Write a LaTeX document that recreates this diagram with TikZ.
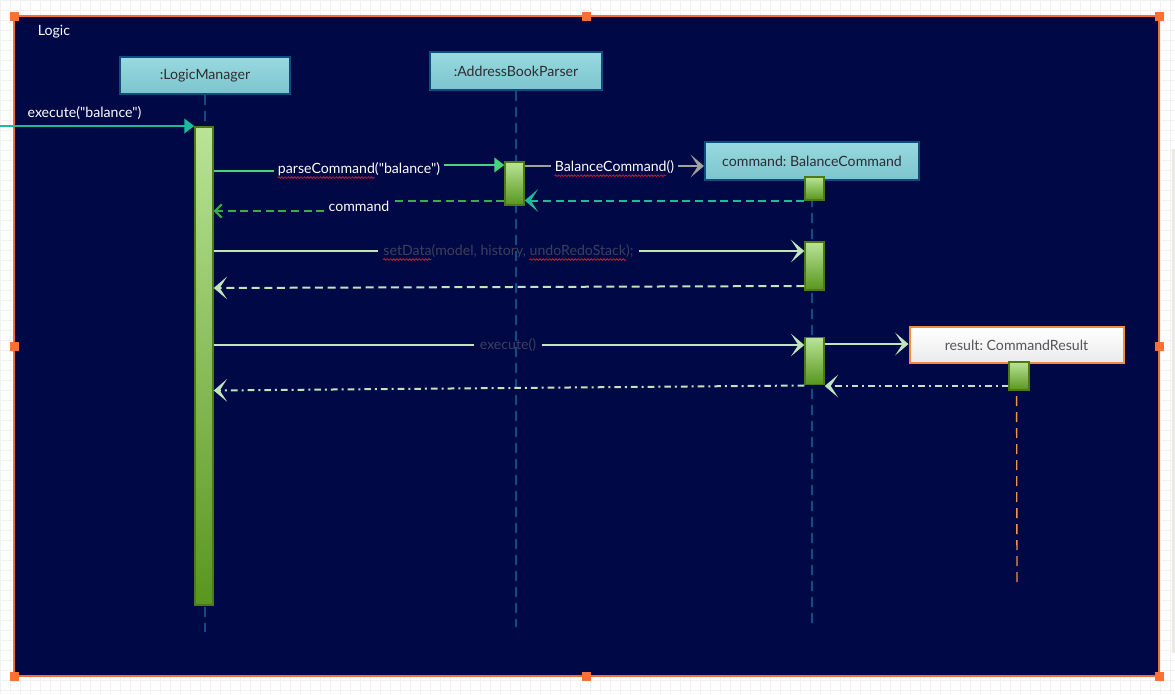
\documentclass[tikz,border=0pt]{standalone}
\usepackage{fontspec}
\setmainfont{Lato}[Ligatures=TeXOff]
\usetikzlibrary{arrows.meta,decorations.pathmorphing}
\frenchspacing

\definecolor{navy}{RGB}{0,8,69}
\definecolor{frameedge}{RGB}{240,110,55}
\definecolor{handlec}{RGB}{255,112,50}
\definecolor{gridc}{RGB}{241,241,241}
\definecolor{scrollc}{RGB}{236,234,226}
\definecolor{boxedge}{RGB}{14,78,125}
\definecolor{cyantop}{RGB}{152,218,224}
\definecolor{cyanbot}{RGB}{124,196,205}
\definecolor{boxtext}{RGB}{45,45,50}
\definecolor{resedge}{RGB}{240,140,62}
\definecolor{resbot}{RGB}{234,234,236}
\definecolor{restext}{RGB}{85,85,90}
\definecolor{acttop}{RGB}{185,228,150}
\definecolor{actbot}{RGB}{88,150,30}
\definecolor{actedge}{RGB}{78,122,22}
\definecolor{lifec}{RGB}{14,78,130}
\definecolor{lifeorange}{RGB}{240,150,70}
\definecolor{teal}{RGB}{26,188,156}
\definecolor{callgreen}{RGB}{72,212,122}
\definecolor{retgreen}{RGB}{58,172,72}
\definecolor{pale}{RGB}{192,229,188}
\definecolor{greyarrow}{RGB}{160,160,160}
\definecolor{dimtext}{RGB}{62,64,90}
\definecolor{spell}{RGB}{200,30,40}

% widths of the words marked by the spell checker
\newlength\wparse
\newlength\wbal
\newlength\wset
\newlength\wundooff
\newlength\wundo
\newcommand\lblfont{\fontsize{10.6pt}{12.7pt}\selectfont}

\begin{document}
\settowidth\wparse{\lblfont parseCommand}%
\settowidth\wbal{\lblfont BalanceCommand}%
\settowidth\wset{\lblfont setData}%
\settowidth\wundooff{\lblfont setData(model, history, }%
\settowidth\wundo{\lblfont undoRedoStack}%
\begin{tikzpicture}[x=0.75pt,y=-0.75pt,
  font=\lblfont,
  frame/.style={draw=frameedge, fill=navy, line width=0.8pt, inner sep=0pt},
  handle/.style={fill=handlec, minimum size=6.75pt, inner sep=0pt},
  objbox/.style={draw=boxedge, line width=1.5pt, top color=cyantop, bottom color=cyanbot,
                 text=boxtext, inner sep=0pt},
  resbox/.style={draw=resedge, line width=1.5pt, top color=white, bottom color=resbot,
                 text=restext, inner sep=0pt},
  actbar/.style={draw=actedge, line width=1.1pt, top color=acttop, bottom color=actbot,
                 inner sep=0pt, minimum width=13.5pt},
  lifeline/.style={draw=lifec, line width=1.3pt, dash pattern=on 7.5pt off 4.5pt},
  msglbl/.style={inner xsep=3pt, inner ysep=1pt, text=white},
  dimlbl/.style={inner xsep=4pt, inner ysep=1pt, text=dimtext},
  msgline/.style={line width=1.5pt},
  solidtip/.style={-{Triangle[length=7.5pt,width=11pt]}},
  sweeptip/.style={-{Stealth[length=10pt,width=17pt,inset=5.5pt]}},
  barbtip/.style={-{Straight Barb[length=5pt,width=10pt,line width=1.5pt]}},
  dashret/.style={dash pattern=on 6pt off 3.5pt},
  dotret/.style={dash pattern=on 5pt off 3pt on 1.5pt off 3pt},
  spellmark/.style={spell, line width=0.6pt, decorate,
                    decoration={snake, amplitude=0.6pt, segment length=2.4pt}},
]
\useasboundingbox (0,0) rectangle (1175,694);

% canvas with grid
\fill[white] (0,0) rectangle (1175,694);
\draw[gridc, line width=0.4pt, step=7.5pt] (0,694) grid (1175,0);
\fill[scrollc] (1172,149) rectangle (1175,653);

% frame of the Logic component
\node[frame, minimum width=858.75pt, minimum height=495pt] (frame) at (586.5,346) {};
\node[text=white] (logiclbl) at (54,32) {Logic};

% participants
\node[objbox, minimum width=127.5pt, minimum height=27.75pt] (lm) at (205,75.5) {:LogicManager};
\node[objbox, minimum width=129pt, minimum height=28.5pt] (abp) at (516,71) {:AddressBookParser};
\node[objbox, minimum width=160.5pt, minimum height=28.5pt] (cmd) at (812,161) {command: BalanceCommand};
\node[resbox, minimum width=160.5pt, minimum height=27pt] (res) at (1016.5,345) {result: CommandResult};

% lifelines
\coordinate (lmend) at (205,632);
\coordinate (abpend) at (516,627);
\coordinate (cmdend) at (812,626);
\coordinate (resend) at (1017,587);
\draw[lifeline] (lm.south) -- (lmend);
\draw[lifeline] (abp.south) -- (abpend);
\draw[lifeline] (cmd.south) -- (cmdend);
\draw[lifeline, draw=lifeorange, line width=1pt] (res.south) -- (resend);

% activation bars
\node[actbar, minimum height=358.5pt] (lmact) at (204,366) {};
\node[actbar, minimum width=14.25pt, minimum height=32.25pt] (pact) at (514.5,183.5) {};
\node[actbar, minimum width=14.25pt, minimum height=17.25pt] (c1) at (814.5,188.5) {};
\node[actbar, minimum width=14.25pt, minimum height=36pt] (c2) at (814.5,266) {};
\node[actbar, minimum width=14.25pt, minimum height=35.25pt] (c3) at (814.5,361) {};
\node[actbar, minimum width=15pt, minimum height=21pt] (r1) at (1019,376) {};

% incoming call
\coordinate (start) at (0,126);
\node[text=white] (execlbl) at (84.5,113) {execute("balance")};
\draw[msgline, teal, solidtip] (start) -- (lmact.west |- start);

% parseCommand
\node[msglbl] (parselbl) at (359,169) {parseCommand("balance")};
\draw[msgline, callgreen] (lmact.east |- 0,171) -- (parselbl.west |- 0,171);
\draw[msgline, callgreen, solidtip] (parselbl.east |- 0,165) -- (pact.west |- 0,165);
\draw[spellmark] ([xshift=3pt,yshift=-3.2pt]parselbl.base west) -- ++(\wparse,0pt);

% BalanceCommand creation
\node[msglbl] (newlbl) at (614.5,167) {BalanceCommand()};
\draw[msgline, greyarrow] (pact.east |- 0,166) -- (newlbl.west |- 0,166);
\draw[msgline, greyarrow, sweeptip] (newlbl.east |- 0,166) -- (cmd.west |- 0,166);
\draw[spellmark] ([xshift=3pt,yshift=-3.2pt]newlbl.base west) -- ++(\wbal,0pt);

% return of the new command to the parser
\draw[msgline, teal, dashret, sweeptip] (c1.west |- 0,200.5) -- (pact.east |- 0,200.5);

% command returned to LogicManager
\node[msglbl] (cmdlbl) at (359,206) {command};
\draw[msgline, retgreen, dashret] (pact.west |- 0,201) -- (cmdlbl.east |- 0,201);
\draw[msgline, retgreen, dashret, barbtip] (cmdlbl.west |- 0,211) -- (lmact.east |- 0,211);

% setData
\node[dimlbl] (setlbl) at (508.5,251) {setData(model, history, undoRedoStack);};
\draw[msgline, pale] (lmact.east |- setlbl) -- (setlbl.west);
\draw[msgline, pale, sweeptip] (setlbl.east) -- (c2.west |- setlbl);
\draw[msgline, pale, dashret, sweeptip] (c2.west |- 0,286) -- (lmact.east |- 0,288);
\draw[spellmark] ([xshift=4pt,yshift=-3.2pt]setlbl.base west) -- ++(\wset,0pt);
\draw[spellmark] ([xshift=4pt+\wundooff,yshift=-3.2pt]setlbl.base west) -- ++(\wundo,0pt);

% execute
\node[dimlbl] (exelbl) at (508,345) {execute()};
\draw[msgline, pale] (lmact.east |- exelbl) -- (exelbl.west);
\draw[msgline, pale, sweeptip] (exelbl.east) -- (c3.west |- exelbl);
\draw[msgline, pale, sweeptip] (c3.east |- 0,344) -- (res.west |- 0,344);
\draw[msgline, pale, dotret, sweeptip] (r1.west |- 0,386) -- (c3.east |- 0,386);
\draw[msgline, pale, dotret, sweeptip] (c3.west |- 0,385.5) -- (lmact.east |- 0,390.5);

% selection handles
\node[handle] (h1) at (14,16) {};
\node[handle] (h2) at (586.5,16) {};
\node[handle] (h3) at (1159,16) {};
\node[handle] (h4) at (14,346) {};
\node[handle] (h5) at (1159,346) {};
\node[handle] (h6) at (14,676) {};
\node[handle] (h7) at (586.5,676) {};
\node[handle] (h8) at (1159,676) {};
\end{tikzpicture}
\end{document}
